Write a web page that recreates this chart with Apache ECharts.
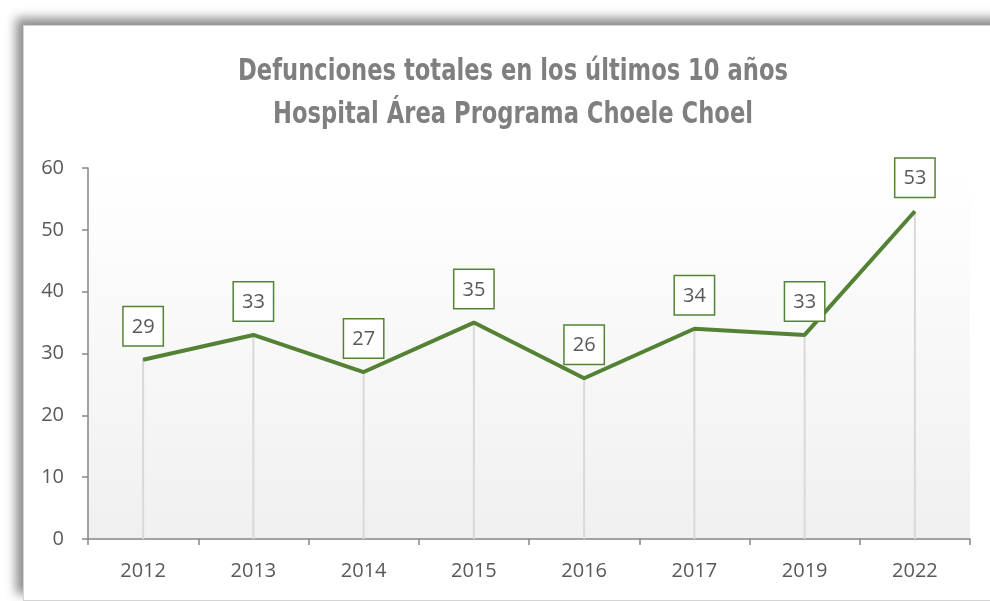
<!DOCTYPE html>
<html>
<head>
<meta charset="utf-8">
<script src="https://cdn.jsdelivr.net/npm/echarts@6/dist/echarts.min.js"></script>
<style>
    html, body {
        margin: 0;
        padding: 0;
        background: #ffffff;
        overflow: hidden;
    }
    .frame {
        position: absolute;
        left: 23px;
        top: 25px;
        width: 1000px;
        height: 574px;
        background: #ffffff;
        border: 1px solid #d4d4d4;
        box-shadow: -7px -7px 10px rgba(0, 0, 0, 0.45);
    }
    #main {
        position: absolute;
        left: 0;
        top: 0;
        width: 990px;
        height: 601px;
    }
</style>
</head>
<body>
<div class="frame"></div>
<div id="main"></div>
<script>
    // datos
    const titleLines = ['Defunciones totales en los últimos 10 años', 'Hospital Área Programa Choele Choel'];
    const years = ['2012', '2013', '2014', '2015', '2016', '2017', '2019', '2022'];
    const deaths = [29, 33, 27, 35, 26, 34, 33, 53];
    const yTicks = [0, 10, 20, 30, 40, 50, 60];

    const green = '#548235';
    const textGray = '#595959';
    const titleFont = 'bold 31px "DejaVu Sans", sans-serif';

    // el titulo original usa una fuente condensada: se estrecha en horizontal
    let ctx = document.createElement('canvas').getContext('2d');
    ctx.font = titleFont;
    let titleScale = 550 / ctx.measureText(titleLines[0]).width;

    let myChart = echarts.init(document.getElementById('main'));
    myChart.setOption({
        animation: false,
        graphic: titleLines.map(function (line, i) {
            return {
                type: 'text',
                x: 513,
                y: 72 + i * 43,
                scaleX: titleScale,
                style: {
                    text: line,
                    font: titleFont,
                    fill: '#7f7f7f',
                    align: 'center',
                    verticalAlign: 'middle'
                }
            };
        }),
        grid: {
            left: 88,
            right: 20,
            top: 168,
            bottom: 62,
            show: true,
            borderWidth: 0,
            backgroundColor: new echarts.graphic.LinearGradient(0, 0, 0, 1, [
                {offset: 0, color: '#ffffff'},
                {offset: 1, color: '#f0f0f0'}
            ])
        },
        xAxis: {
            type: 'category',
            data: years,
            boundaryGap: true,
            axisLine: {lineStyle: {color: '#868686', width: 1.5}},
            axisTick: {show: true, length: 6, lineStyle: {color: '#868686', width: 1.5}},
            axisLabel: {
                color: textGray,
                fontSize: 20,
                fontFamily: '"Open Sans", sans-serif',
                margin: 22
            }
        },
        yAxis: {
            type: 'value',
            min: yTicks[0],
            max: yTicks[yTicks.length - 1],
            interval: 10,
            splitLine: {show: false},
            axisLine: {show: true, lineStyle: {color: '#868686', width: 1.5}},
            axisTick: {show: true, length: 6, lineStyle: {color: '#868686', width: 1.5}},
            axisLabel: {
                color: textGray,
                fontSize: 20,
                fontFamily: '"Open Sans", sans-serif',
                margin: 24
            }
        },
        series: [
            {
                // lineas de proyeccion
                type: 'bar',
                data: deaths,
                barWidth: 2,
                silent: true,
                z: 1,
                itemStyle: {color: '#d9d9d9'}
            },
            {
                type: 'line',
                data: deaths,
                z: 3,
                symbol: 'circle',
                symbolSize: 1,
                showSymbol: true,
                itemStyle: {color: green},
                lineStyle: {color: green, width: 4},
                label: {
                    show: true,
                    position: 'top',
                    distance: 14,
                    color: textGray,
                    fontSize: 20,
                    fontFamily: '"Open Sans", sans-serif',
                    backgroundColor: '#ffffff',
                    borderColor: green,
                    borderWidth: 1.5,
                    padding: [10, 8, 8, 8]
                }
            }
        ]
    });
</script>
</body>
</html>
